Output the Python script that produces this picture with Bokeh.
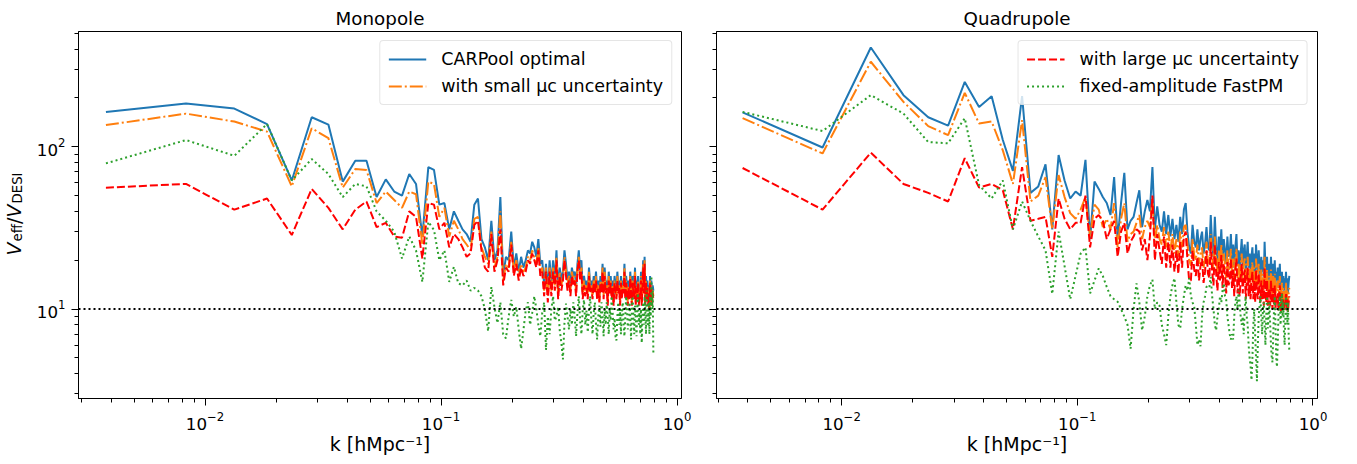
import math
from bokeh.plotting import figure
from bokeh.models import (Range1d, FixedTicker, Span, Label, Legend, LegendItem,
                          CustomJSTickFormatter)
from bokeh.layouts import row
from bokeh.embed import file_html
from bokeh.resources import INLINE

# ---------------- data ----------------
k = [0.0038, 0.0083, 0.0133, 0.0183, 0.0233, 0.0283, 0.0333, 0.0383, 0.0433, 0.0483,
     0.0533, 0.0583, 0.0633, 0.0683, 0.0733, 0.0783, 0.0833, 0.0883, 0.0933, 0.0983,
     0.1033, 0.1083, 0.1133, 0.1183, 0.1233, 0.1283, 0.1333, 0.1383, 0.1433, 0.1483,
     0.1533, 0.1583, 0.1633, 0.1683, 0.1733, 0.1783, 0.1833, 0.1883, 0.1933, 0.1983,
     0.2033, 0.2083, 0.2133, 0.2183, 0.2233, 0.2283, 0.2333, 0.2383, 0.2433, 0.2483,
     0.2533, 0.2583, 0.2633, 0.2683, 0.2733, 0.2783, 0.2833, 0.2883, 0.2933, 0.2983,
     0.3033, 0.3083, 0.3133, 0.3183, 0.3233, 0.3283, 0.3333, 0.3383, 0.3433, 0.3483,
     0.3533, 0.3583, 0.3633, 0.3683, 0.3733, 0.3783, 0.3833, 0.3883, 0.3933, 0.3983,
     0.4033, 0.4083, 0.4133, 0.4183, 0.4233, 0.4283, 0.4333, 0.4383, 0.4433, 0.4483,
     0.4533, 0.4583, 0.4633, 0.4683, 0.4733, 0.4783, 0.4833, 0.4883, 0.4933, 0.4983,
     0.5033, 0.5083, 0.5133, 0.5183, 0.5233, 0.5283, 0.5333, 0.5383, 0.5433, 0.5483,
     0.5533, 0.5583, 0.5633, 0.5683, 0.5733, 0.5783, 0.5833, 0.5883, 0.5933, 0.5983,
     0.6033, 0.6083, 0.6133, 0.6183, 0.6233, 0.6283, 0.6333, 0.6383, 0.6433, 0.6483,
     0.6533, 0.6583, 0.6633, 0.6683, 0.6733, 0.6783, 0.6833, 0.6883, 0.6933, 0.6983,
     0.7033, 0.7083, 0.7133, 0.7183, 0.7233, 0.7283, 0.7333, 0.7383, 0.7433, 0.7483,
     0.7533, 0.7583, 0.7633, 0.7683, 0.7733, 0.7783, 0.7833, 0.7883, 0.7933]

# Monopole
mono_carpool = [164, 185, 172, 138, 62, 152, 137, 61, 82, 82,
                49, 63, 53, 50, 68, 59, 28, 75, 72, 44,
                45, 31, 40, 35, 31, 29, 26, 44, 48, 27,
                24, 20, 35, 20, 23, 49, 16, 21, 20, 30,
                18, 22, 17, 21, 18, 20, 23, 22, 26, 24,
                21, 27, 19, 20, 14, 19, 13, 20, 14, 20,
                15, 23, 13, 18, 15, 17, 23, 19, 15, 17,
                14, 18, 16, 17, 14, 19, 23, 17, 20, 13,
                16, 14, 15, 13, 18, 14, 15, 13, 16, 14,
                17, 13, 15, 12, 16, 14, 19, 13, 18, 14,
                15, 12, 17, 14, 16, 13, 15, 12, 16, 14,
                13, 17, 14, 15, 12, 16, 13, 15, 14, 19,
                13, 16, 14, 12, 15, 13, 17, 14, 12, 16,
                14, 13, 18, 12, 15, 13, 16, 12, 14, 13,
                17, 12, 15, 20, 14, 21, 12, 16, 13, 15,
                12, 14, 11, 16, 13, 15, 12, 14, 13]
mono_small = [136, 160, 143, 124, 57, 130, 113, 56, 73, 72,
              45, 53, 47, 42, 53, 51, 25, 61, 59, 37,
              42, 28, 35, 31, 27, 25, 23, 36, 37, 24,
              21, 19, 30, 18, 21, 40, 15, 19, 18, 26,
              17, 20, 16, 19, 17, 18, 21, 20, 23, 21,
              19, 24, 17, 18, 13, 18, 12, 18, 13, 18,
              14, 21, 12, 17, 14, 16, 21, 17, 14, 16,
              13, 17, 15, 16, 13, 18, 21, 16, 18, 12,
              15, 13, 14, 12, 17, 13, 14, 12, 15, 13,
              16, 12, 14, 11, 15, 13, 18, 12, 17, 13,
              14, 11, 16, 13, 15, 12, 14, 11, 15, 13,
              12, 16, 13, 14, 11, 15, 12, 14, 13, 18,
              12, 15, 13, 11, 14, 12, 16, 13, 11, 15,
              13, 12, 17, 11, 14, 12, 15, 11, 13, 12,
              16, 11, 14, 19, 13, 20, 11, 15, 12, 14,
              11, 13, 10, 15, 12, 14, 11, 13, 12]
mono_large = [56, 59, 41, 48, 28.6, 55, 42, 31, 41, 46,
              32, 34, 28, 27.5, 40, 37, 20.5, 45, 44, 31,
              34, 24, 29, 27, 24, 21, 22, 33, 35, 23,
              18, 17, 29, 17, 20, 31, 14, 18, 17, 25,
              16, 19, 15, 18, 16, 17, 20, 19, 22, 20,
              18, 23, 16, 17, 12, 17, 11, 17, 12, 17,
              13, 20, 11.5, 16, 13, 15, 20, 16, 13, 15,
              12, 16, 14, 15, 12, 17, 20, 15, 17, 11.5,
              14, 12, 13.5, 11.5, 16, 12.5, 13.5, 11.5, 14.5, 12.5,
              15, 11.5, 13.5, 11, 14.5, 12.5, 17, 11.5, 16, 12.5,
              13.5, 10.5, 15, 12.5, 14.5, 11.5, 13.5, 10.5, 14.5, 12.5,
              11.5, 15, 12.5, 13.5, 10.5, 14.5, 11.5, 13.5, 12.5, 17,
              11.5, 14.5, 12.5, 10.5, 13.5, 11.5, 15.5, 12.5, 10.5, 14.5,
              12.5, 11.5, 16, 10.5, 13.5, 11.5, 14.5, 10.5, 12.5, 11.5,
              15, 10.5, 13.5, 18, 12.5, 19, 10.5, 14.5, 11.5, 13.5,
              10.5, 12.5, 10, 14.5, 11.5, 13.5, 10.5, 12.5, 11.5]
mono_fastpm = [79, 110, 88, 138, 62, 84, 68, 49, 59, 57,
               40, 35, 30, 20.5, 28, 23, 14.7, 34.5, 30.7, 20,
               23, 14.7, 18.2, 14.4, 14, 15, 13, 13.5, 13, 12,
               10, 7.3, 13.7, 10.3, 8.2, 11, 7, 6.6, 9, 11.4,
               9, 10.3, 7.5, 5.7, 7.4, 9.8, 11, 8, 9.5, 12,
               10, 8, 6.8, 9.5, 11, 5.6, 9, 7, 10, 12,
               8.5, 9, 10.3, 7.4, 6.2, 4.9, 8.2, 10.8, 9, 7.5,
               10, 8, 11, 9, 6.8, 9.5, 12, 8.5, 7, 10,
               11.4, 8, 9.8, 7.2, 10, 12, 8.5, 7, 9.5, 11,
               8, 6.5, 9, 10.5, 7.8, 11, 9, 6.8, 10, 8,
               11, 9, 7, 10, 8.5, 12, 9.5, 7.5, 8.8, 6.8,
               6.4, 9, 11, 8, 10, 7, 9.5, 11, 8.2, 6.8,
               9, 12, 10, 7.5, 8.5, 11, 9, 6.5, 10, 12,
               8.5, 7, 10.5, 9, 6.8, 11, 12.5, 8, 9.5, 7,
               10, 6.2, 9, 11, 8, 12, 10, 7, 13, 9,
               8, 11, 7, 12, 9, 16, 10, 13, 5.4]

# Quadrupole
quad_carpool = [163, 99, 409, 208, 152, 135, 251, 176, 205, 110,
                71, 205, 52, 57, 78, 31, 89, 62, 48, 53,
                50, 83, 27, 61, 55, 49, 45, 38, 65, 27,
                45, 69, 31, 35, 37, 45, 54, 32, 40, 47,
                40, 75, 31, 43, 33, 30, 40, 29, 38, 28,
                36, 27, 33, 26, 37, 29, 41, 45, 30, 24,
                22, 33, 26, 24, 31, 23, 27, 30, 22, 25,
                32, 24, 23, 38, 25, 21, 37, 24, 20, 28,
                22, 31, 20, 27, 23, 19, 28, 21, 22, 29,
                20, 25, 18, 24, 29, 19, 23, 18, 22, 27,
                18, 23, 25, 17, 21, 26, 18, 22, 17, 21,
                24, 17, 22, 16, 25, 19, 17, 23, 18, 16,
                21, 17, 20, 15, 26, 18, 16, 21, 15, 18,
                19, 15, 21, 16, 14, 19, 15, 20, 14, 17,
                15, 18, 13.5, 16, 19, 14, 13, 17, 13.5, 16,
                13, 15.5, 14, 17, 13, 15.5, 12.5, 14.5, 16]
quad_small = [150, 91, 334, 189, 134, 118, 215, 139, 143, 95,
              59, 146, 46, 50, 65, 31, 67, 49, 39, 36,
              41, 49, 28, 44, 41, 32, 36, 31, 45, 24,
              36, 45, 26, 29, 30, 34, 38, 27, 32, 35,
              32, 48, 26, 33, 27, 25, 32, 24, 30, 23,
              29, 22, 27, 21, 30, 24, 32, 33, 25, 20,
              18.5, 27, 21.5, 20, 25, 19, 22, 24, 18, 20.5,
              26, 20, 19, 29, 20.5, 17.5, 28, 20, 16.5, 23,
              18.5, 25, 16.5, 22, 19, 15.5, 23, 17.5, 18, 23.5,
              16.5, 20.5, 15, 20, 23.5, 15.5, 19, 15, 18, 22,
              15, 19, 20.5, 14, 17.5, 21, 15, 18, 14, 17.5,
              19.5, 14, 18, 13.5, 20.5, 15.5, 14, 19, 15, 13.5,
              17.5, 14, 16.5, 12.5, 21, 15, 13.5, 17.5, 12.5, 15,
              16, 12.5, 17.5, 13.5, 12, 16, 12.5, 16.5, 12, 14.5,
              13, 15, 11.5, 13.5, 16, 12, 11, 14.5, 11.5, 13.5,
              11, 13, 12, 14.5, 11, 13, 10.5, 12.5, 13.5]
quad_large = [74, 41, 92, 59, 52, 46, 85, 56, 59, 54,
              31, 75, 35, 36, 37, 21, 48, 36, 31, 34,
              34, 50, 24, 36, 38, 35, 27, 31, 35, 21,
              30, 34, 22, 26, 28, 31, 30, 23, 27, 20,
              28, 50, 20, 29, 23, 19, 28, 18, 26, 18,
              25, 17, 23, 16.5, 26, 18, 28, 30, 20, 15,
              15, 23, 17.5, 16, 21, 15, 18.5, 20.5, 14.5, 17,
              23, 16.5, 15.5, 26, 17, 14, 25, 16.5, 13, 19.5,
              15, 21.5, 13.5, 19, 16, 12.5, 19.5, 14, 15, 20.5,
              13.5, 17.5, 12, 17, 20.5, 12.5, 16, 12, 15, 19,
              12.5, 16, 17.5, 11.5, 14.5, 18, 12, 15.5, 11.5, 15,
              17, 11.5, 15, 11, 17.5, 13, 11.5, 16.5, 12.5, 11,
              15, 11.5, 14, 10.5, 18, 12.5, 11, 15, 10.5, 12.5,
              13.5, 10.5, 15, 11.5, 10, 13.5, 10.5, 14, 10, 12,
              11, 12.5, 9.8, 11.5, 14, 10.5, 9.6, 12.5, 10, 11.5,
              9.8, 11, 10.5, 12.5, 9.8, 11.5, 9.6, 11, 12]
quad_fastpm = [164, 125, 208, 160, 107, 105, 150, 58, 48, 62,
               31, 46, 35, 28, 23, 12.4, 30, 18.4, 11.5, 16,
               22, 24, 12.5, 15, 17.8, 16, 13.7, 12, 11.5, 11.1,
               10, 9, 8, 5.7, 10, 14.4, 11, 7.4, 9, 12,
               14, 15.2, 10, 11, 10.5, 8, 7, 6, 9, 12,
               14, 15.5, 11, 8, 7.6, 10, 12, 14, 13, 15.5,
               12, 11, 10.4, 8, 6, 6.5, 5.9, 9, 11, 12,
               13.7, 14, 13.7, 15.8, 12, 10, 8, 7.4, 9, 10,
               12, 11, 13, 14.4, 12, 11.4, 9, 8, 7, 6.5,
               7, 6.5, 9, 11, 12, 10, 13, 11, 9, 8,
               9, 7, 10, 12, 9, 8, 6, 5, 4.5, 3.65,
               5, 8, 10, 7, 5, 3.6, 6, 9, 10.4, 12,
               9, 7, 10, 11, 8, 6, 9, 12, 7.6, 9,
               11, 8, 6, 5, 4.7, 7, 10, 12, 8, 5,
               4.4, 6, 9, 11, 12, 8, 10, 12.5, 9, 11,
               7, 6, 9, 12, 10, 8, 11, 7, 5.6]

threshold = 10
x_major = [0.01, 0.1, 1]
y_major = [10, 100]
panel_titles = ["Monopole", "Quadrupole"]
labels = ["CARPool optimal", "with small μc uncertainty",
          "with large μc uncertainty", "fixed-amplitude FastPM"]
x_label = "k [hMpc\u207b\u00b9]"

# ---------------- styling ----------------
FONT = "DejaVu Sans"
COLORS = ["#1f77b4", "#ff7f0e", "#ff0000", "#2ca02c"]
DASHES = ["solid", "13 3 2 3", "8 3", "2 3"]
FRAME_H = 367
TOP = 31
TOTAL_H = 462
BOTTOM = TOTAL_H - TOP - FRAME_H
Y_RANGE = Range1d(2.813, 513)

x_minor = [m * 10.0 ** e for e in (-3, -2, -1) for m in range(2, 10)]
y_minor = [m * 10.0 ** e for e in (0, 1, 2) for m in range(2, 10)]


def make_panel(series, title, x_lo, x_hi, frame_w, bl, br, legend_idx, ylabels):
    p = figure(frame_width=frame_w, frame_height=FRAME_H,
               x_axis_type="log", y_axis_type="log",
               x_range=Range1d(x_lo, x_hi), y_range=Y_RANGE,
               toolbar_location=None, output_backend="svg",
               min_border_left=bl, min_border_right=br,
               min_border_top=TOP, min_border_bottom=BOTTOM)
    p.title.text = title
    p.title.align = "center"
    p.title.text_font = FONT
    p.title.text_font_size = "18.3px"
    p.title.text_font_style = "normal"
    p.title.text_color = "black"
    p.title.standoff = 5

    p.xgrid.visible = False
    p.ygrid.visible = False
    p.outline_line_color = "black"
    p.outline_line_width = 1
    p.background_fill_color = "white"
    p.border_fill_color = "white"

    p.xaxis.ticker = FixedTicker(ticks=x_major, minor_ticks=x_minor)
    p.yaxis.ticker = FixedTicker(ticks=y_major, minor_ticks=y_minor)
    for ax in (p.xaxis, p.yaxis):
        ax.axis_line_color = "black"
        ax.major_tick_line_color = "black"
        ax.minor_tick_line_color = "black"
        ax.major_tick_out = 7
        ax.major_tick_in = 0
        ax.minor_tick_out = 4
        ax.minor_tick_in = 0
        ax.major_label_text_font = FONT
        ax.major_label_text_font_size = "16.7px"
        ax.major_label_text_color = "black"
        ax.major_label_standoff = 6
    if not ylabels:
        p.yaxis.formatter = CustomJSTickFormatter(code="return ''")

    p.xaxis.axis_label = x_label
    p.xaxis.axis_label_text_font = FONT
    p.xaxis.axis_label_text_font_size = "19px"
    p.xaxis.axis_label_text_font_style = "normal"
    p.xaxis.axis_label_text_color = "black"
    p.xaxis.axis_label_standoff = 0

    p.add_layout(Span(location=threshold, dimension="width", line_color="black",
                      line_dash="2 3", line_width=2))

    rends = []
    for ys, c, d in zip(series, COLORS, DASHES):
        rends.append(p.line(k, ys, line_color=c, line_dash=d, line_width=2))

    items = [LegendItem(label=labels[i], renderers=[rends[i]]) for i in legend_idx]
    leg = Legend(items=items, location="top_right",
                 label_text_font=FONT, label_text_font_size="17.5px",
                 label_text_color="black", glyph_width=38, glyph_height=20,
                 label_height=20, label_standoff=15, padding=8, spacing=7,
                 margin=9, border_line_color="#cccccc", border_line_width=1,
                 background_fill_color="white", background_fill_alpha=0.8)
    try:
        leg.border_radius = 4
    except Exception:
        pass
    p.add_layout(leg)
    return p


# narrow strip that carries the rotated y-axis label V_eff / V_DESI.
# Its frame is aligned with the panels' frames (y measured up from the frame bottom).
YLAB_W = 32
ylab = figure(frame_width=YLAB_W, frame_height=FRAME_H,
              x_range=Range1d(0, 1), y_range=Range1d(0, 1),
              toolbar_location=None, output_backend="svg", min_border=0,
              min_border_top=TOP, min_border_bottom=BOTTOM,
              x_axis_location=None, y_axis_location=None)
ylab.outline_line_color = None
ylab.xgrid.visible = False
ylab.ygrid.visible = False


def ytxt(x, y, text, size, style="normal"):
    ylab.add_layout(Label(x=x, y=y, x_units="screen", y_units="screen", text=text,
                          text_font=FONT, text_font_size=size, text_font_style=style,
                          text_color="black", angle=math.pi / 2, text_align="left",
                          text_baseline="alphabetic"))


y0 = 143
xm, xs = 13, 17
ytxt(xm, y0, "V", "19px", "italic")
ytxt(xs, y0 + 14, "eff", "13.3px")
ytxt(xm, y0 + 31.5, "/", "19px")
ytxt(xm, y0 + 38, "V", "19px", "italic")
ytxt(xs, y0 + 52, "DESI", "13.3px")

p1 = make_panel([mono_carpool, mono_small, mono_large, mono_fastpm], panel_titles[0],
                0.002908, 1.044, 603, 78 - YLAB_W, 15, [0, 1], True)
p2 = make_panel([quad_carpool, quad_small, quad_large, quad_fastpm], panel_titles[1],
                0.002945, 1.045, 601, 20, 20, [2, 3], False)

layout = row(ylab, p1, p2)
open("out.html", "w").write(file_html(layout, INLINE))
